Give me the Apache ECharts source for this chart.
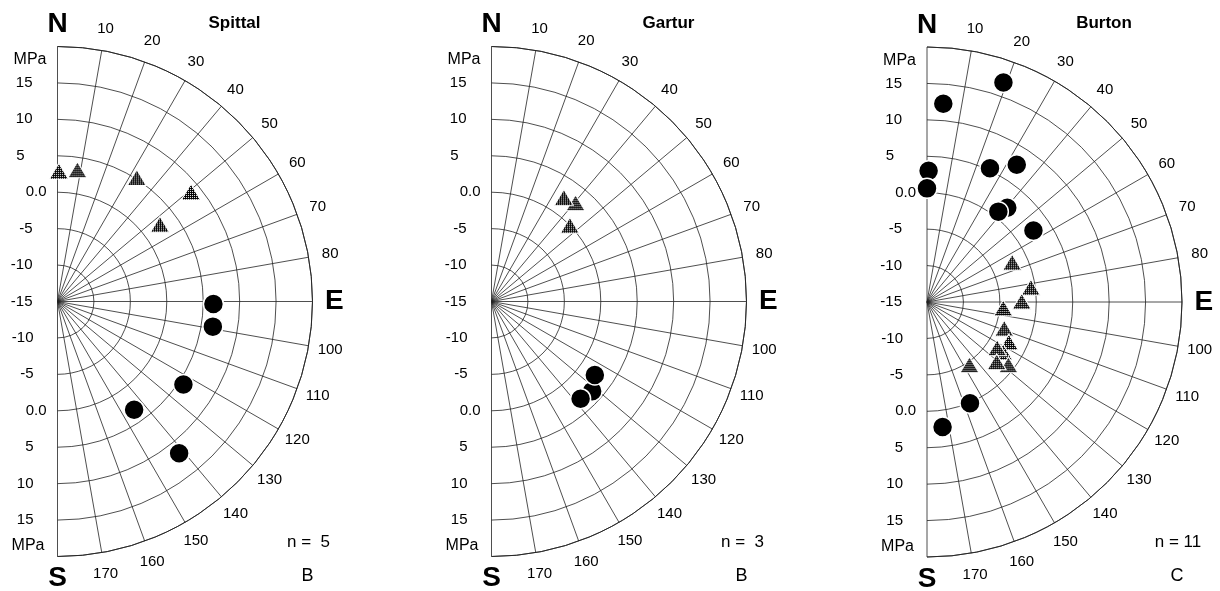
<!DOCTYPE html>
<html>
<head>
<meta charset="utf-8">
<script src="https://cdn.jsdelivr.net/npm/echarts@6/dist/echarts.min.js"></script>
<style>
  html, body { margin: 0; padding: 0; background: #fff; }
  #chart { width: 1220px; height: 591px; }
</style>
</head>
<body>
<div id="chart"></div>
<script>
// Sites, sample counts and panel letters
const sites = ['Spittal', 'Gartur', 'Burton'];
const sampleCounts = [5, 3, 11];
const panelLetters = ['B', 'B', 'C'];

// Azimuth tick labels (degrees clockwise from north) and compass letters
const azimuthTicks = [10, 20, 30, 40, 50, 60, 70, 80, 100, 110, 120, 130, 140, 150, 160, 170];
const compassAzimuths = [0, 90, 180];
const compassLetters = ['N', 'E', 'S'];

// Pressure scale along the radius (MPa), -15 at the pole
const pressureTicks = [-15, -10, -5, 0, 5, 10, 15];
const pressureUnit = 'MPa';

// Spittal: circles and triangles (azimuth in degrees, pressure in MPa)
const spittalCircleAzimuth = [90.9, 99.2, 123.4, 144.7, 141.3];
const spittalCirclePressure = [6.4, 6.6, 5.7, 3.2, 11.7];
const spittalTriangleAzimuth = [0.6, 8.6, 32.6, 50.6, 53.0];
const spittalTrianglePressure = [2.9, 3.3, 5.2, 8.7, 2.6];

// Gartur
const garturCircleAzimuth = [131.7, 125.4, 137.5];
const garturCirclePressure = [3.5, 2.4, 3.1];
const garturTriangleAzimuth = [40.4, 34.8, 45.8];
const garturTrianglePressure = [2.8, 2.4, 0.0];

// Burton
const burtonCircleAzimuth = [4.7, 19.2, 0.7, 0.0, 25.2, 33.2, 40.4, 38.3, 56.1, 157.0, 172.9];
const burtonCirclePressure = [12.3, 16.9, 3.0, 0.6, 5.3, 7.5, 2.0, 0.8, 2.6, 0.1, 2.3];
const burtonTriangleAzimuth = [65.0, 81.9, 89.5, 94.5, 108.8, 116.0, 123.3, 123.1, 127.6, 130.6, 145.9];
const burtonTrianglePressure = [-2.1, -0.6, -2.0, -4.5, -3.8, -2.5, -2.5, -3.5, -0.9, -2.4, -4.6];

const circleAzimuth = [spittalCircleAzimuth, garturCircleAzimuth, burtonCircleAzimuth];
const circlePressure = [spittalCirclePressure, garturCirclePressure, burtonCirclePressure];
const triangleAzimuth = [spittalTriangleAzimuth, garturTriangleAzimuth, burtonTriangleAzimuth];
const trianglePressure = [spittalTrianglePressure, garturTrianglePressure, burtonTrianglePressure];

// Layout
const FONT = "'Liberation Sans', Arial, Helvetica, sans-serif";
const LINE = '#222';
const centers = [[57.5, 301.5], [491.5, 301.5], [927, 302]];
const RADIUS = 255;
const R_MIN = -15, R_MAX = 20, R_STEP = 5;
const LABEL_RING = 23;   // radius (in MPa units) on which azimuth labels sit
const TRI_SIZE = [19, 16];

// fine dark dither fill for the triangles; symbols are drawn in a unit box
// scaled to their size, so the pattern is scaled back to screen pixels
function ditherPattern() {
  const c = document.createElement('canvas');
  c.width = 2; c.height = 2;
  const g = c.getContext('2d');
  g.fillStyle = '#000'; g.fillRect(0, 0, 2, 2);
  g.fillStyle = '#fff'; g.fillRect(1, 1, 1, 1);
  return { image: c, repeat: 'repeat', scaleX: 2 / TRI_SIZE[0], scaleY: 2 / TRI_SIZE[1] };
}
const shade = ditherPattern();

function pressureText(v) { return v === 0 ? '0.0' : String(v); }

const upperRich = {
  n: { fontFamily: FONT, fontSize: 15, color: '#000', padding: [0, 14, 0, 0] },
  f: { fontFamily: FONT, fontSize: 15, color: '#000', padding: [0, 22, 0, 0] },
  z: { fontFamily: FONT, fontSize: 15, color: '#000' }
};
// southern labels: fixed-width boxes so the numbers end at a common right edge
const lowerRich = {
  n: { fontFamily: FONT, fontSize: 15, color: '#000', width: 26, align: 'right' },
  z: { fontFamily: FONT, fontSize: 15, color: '#000', width: 39, align: 'right' }
};

function upperLabel(v) {
  if (pressureTicks.indexOf(v) < 0) return '';
  if (v === 0) return '{z|' + pressureText(v) + '}';
  if (v === 5) return '{f|' + pressureText(v) + '}';
  return '{n|' + pressureText(v) + '}';
}
function lowerLabel(v) {
  if (pressureTicks.indexOf(v) < 0 || v === R_MIN) return '';
  if (v === 0) return '{z|' + pressureText(v) + '}';
  return '{n|' + pressureText(v) + '}';
}

const polar = [], angleAxis = [], radiusAxis = [], series = [], graphic = [];

sites.forEach(function (site, i) {
  const [cx, cy] = centers[i];
  // main half-disc: north at top, east to the right, south at bottom
  polar[i] = { center: [cx, cy], radius: RADIUS };
  angleAxis.push({
    polarIndex: i, type: 'value', min: 0, max: 180, interval: 10,
    startAngle: 90, endAngle: -90, clockwise: true,
    axisLine: { lineStyle: { color: LINE, width: 0.9 } },
    axisTick: { show: false },
    axisLabel: { show: false },
    splitLine: { show: true, lineStyle: { color: LINE, width: 0.8 } }
  });
  radiusAxis.push({
    polarIndex: i, type: 'value', min: R_MIN, max: R_MAX, interval: R_STEP,
    axisLine: { show: false }, axisTick: { show: false },
    splitLine: { show: true, lineStyle: { color: LINE, width: 0.8 } },
    axisLabel: { margin: 11, formatter: upperLabel, rich: upperRich, fontFamily: FONT, fontSize: 15, color: '#000' }
  });

  // azimuth labels and compass letters placed on a ring outside the rim
  const ringData = azimuthTicks.map(function (a) {
    return { name: String(a), value: [LABEL_RING, a] };
  }).concat(compassAzimuths.map(function (a, k) {
    return { name: compassLetters[k], value: [LABEL_RING, a],
      label: { fontSize: 28, fontWeight: 'bold' } };
  }));
  series.push({
    type: 'scatter', coordinateSystem: 'polar', polarIndex: i,
    symbol: 'circle', symbolSize: 1, clip: false, silent: true,
    itemStyle: { color: 'rgba(0,0,0,0)', opacity: 1 },
    label: { show: true, position: 'inside', formatter: '{b}', fontFamily: FONT, fontSize: 15, color: '#000' },
    data: ringData, z: 4
  });

  series.push({
    type: 'scatter', coordinateSystem: 'polar', polarIndex: i,
    symbol: 'triangle', symbolSize: TRI_SIZE, clip: false, silent: true,
    itemStyle: { color: shade, borderColor: '#fff', borderWidth: 1, opacity: 1 },
    data: triangleAzimuth[i].map(function (a, k) { return [trianglePressure[i][k], a]; }),
    z: 5
  });
  series.push({
    type: 'scatter', coordinateSystem: 'polar', polarIndex: i,
    symbol: 'circle', symbolSize: 20, clip: false, silent: true,
    itemStyle: { color: '#000', borderColor: '#fff', borderWidth: 1.5, opacity: 1 },
    data: circleAzimuth[i].map(function (a, k) { return [circlePressure[i][k], a]; }),
    z: 6
  });

  const txt = function (x, y, text, size, weight, align) {
    graphic.push({
      type: 'text', x: x, y: y, silent: true,
      style: { text: text, fill: '#000', font: (weight || 'normal') + ' ' + size + 'px ' + FONT,
        align: align || 'center', verticalAlign: 'middle',
        textAlign: align || 'center', textVerticalAlign: 'middle' }
    });
  };
  txt(cx + 177, 23, site, 17, 'bold');
  txt(cx - 11, cy - 241.5, pressureUnit, 16, 'normal', 'right');
  txt(cx - 13, cy + 244.5, pressureUnit, 16, 'normal', 'right');
  const count = sampleCounts[i];
  txt(cx + 251, 542, 'n = ' + (count < 10 ? ' ' : '') + count, 17);
  txt(cx + 250, 576, panelLetters[i], 18);
});

// mirrored radius axes that carry the pressure labels on the southern half;
// the negative margin brings the labels over to the west side of the line
sites.forEach(function (site, i) {
  const [cx, cy] = centers[i];
  polar[i + 3] = { center: [cx, cy], radius: RADIUS };
  angleAxis.push({ polarIndex: i + 3, type: 'value', min: 0, max: 360, startAngle: -90, show: false });
  radiusAxis.push({
    polarIndex: i + 3, type: 'value', min: R_MIN, max: R_MAX, interval: R_STEP,
    axisLine: { show: false }, axisTick: { show: false }, splitLine: { show: false },
    axisLabel: { margin: -50, formatter: lowerLabel, rich: lowerRich, fontFamily: FONT, fontSize: 15, color: '#000' }
  });
});

const chart = echarts.init(document.getElementById('chart'), null, { renderer: 'canvas' });
chart.setOption({
  animation: false,
  backgroundColor: '#fff',
  textStyle: { fontFamily: FONT },
  polar: polar,
  angleAxis: angleAxis,
  radiusAxis: radiusAxis,
  series: series,
  graphic: graphic
});
</script>
</body>
</html>
